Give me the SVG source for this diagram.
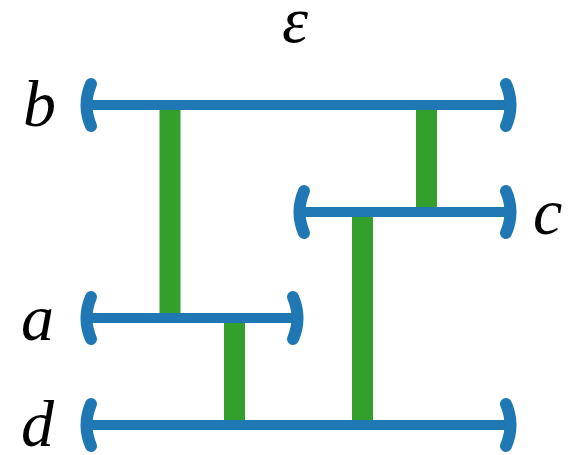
<svg xmlns="http://www.w3.org/2000/svg" width="587" height="455" viewBox="0 0 587 455">
<style>
.bar{stroke:#33a02c;stroke-width:21;fill:none}
.ln{stroke:#1f77b4;stroke-width:10;fill:none}
.cap{stroke:#1f77b4;stroke-width:12;fill:none;stroke-linecap:round}
.lbl{font-family:"Liberation Serif","DejaVu Serif",serif;font-style:italic;font-size:66px;fill:#000}
</style>
<rect width="587" height="455" fill="#fff"/>
<g id="connectors">
<line class="bar" x1="170" y1="105" x2="170" y2="318"/>
<line class="bar" x1="426.5" y1="105" x2="426.5" y2="212"/>
<line class="bar" x1="362.5" y1="212" x2="362.5" y2="425"/>
<line class="bar" x1="234.5" y1="318" x2="234.5" y2="425"/>
</g>
<g id="node-b">
<line class="ln" x1="88" y1="105" x2="509" y2="105"/>
<path class="cap" d="M91,84 Q82,105 91,126"/>
<path class="cap" d="M506,84 Q515,105 506,126"/>
<text class="lbl" x="23" y="126">b</text>
</g>
<g id="node-c">
<line class="ln" x1="300" y1="212" x2="509" y2="212"/>
<path class="cap" d="M304,191 Q295,212 304,233"/>
<path class="cap" d="M506,191 Q515,212 506,233"/>
<text class="lbl" x="533" y="234">c</text>
</g>
<g id="node-a">
<line class="ln" x1="88" y1="318" x2="296" y2="318"/>
<path class="cap" d="M91,297 Q82,318 91,339"/>
<path class="cap" d="M293,297 Q302,318 293,339"/>
<text class="lbl" x="21" y="340">a</text>
</g>
<g id="node-d">
<line class="ln" x1="88" y1="425" x2="509" y2="425"/>
<path class="cap" d="M91,404 Q82,425 91,446"/>
<path class="cap" d="M506,404 Q515,425 506,446"/>
<text class="lbl" x="21" y="446">d</text>
</g>
<g id="title">
<text class="lbl" x="295" y="42" text-anchor="middle" font-size="58">ε</text>
</g>
</svg>
